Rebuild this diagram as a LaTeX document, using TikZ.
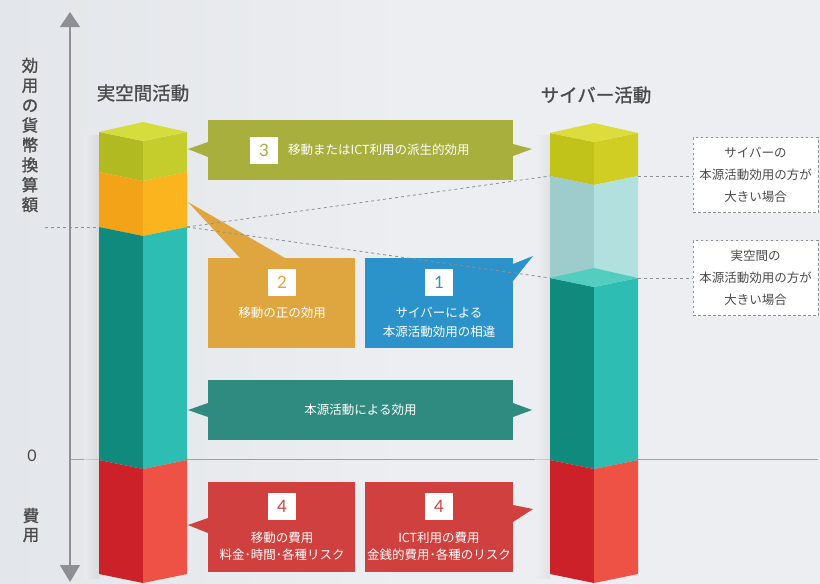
\documentclass[tikz,border=0pt]{standalone}
\usepackage{fontspec}
\setmainfont{Noto Sans CJK JP}
\newfontfamily\jpb[FakeBold=1.2]{Noto Sans CJK JP}
\newfontfamily\numf{Lato}
\usetikzlibrary{arrows.meta}
\definecolor{bg}{HTML}{ECEEF1}
\definecolor{bgdark}{HTML}{E3E6EA}
\definecolor{axisc}{HTML}{8C9096}
\definecolor{zeroc}{HTML}{9EA2A8}
\definecolor{dashc}{HTML}{8A8F96}
\definecolor{lab}{HTML}{4A4A4A}
\definecolor{boxOlive}{HTML}{A8AF3D}
\definecolor{boxOrange}{HTML}{DFA53E}
\definecolor{boxBlue}{HTML}{2B93C9}
\definecolor{boxTeal}{HTML}{2F8B7F}
\definecolor{boxRed}{HTML}{D0403E}
% column faces
\definecolor{ygL}{HTML}{B1BA20}\definecolor{ygR}{HTML}{C4CD2C}\definecolor{ygT}{HTML}{D4DD3C}
\definecolor{orL}{HTML}{F3A318}\definecolor{orR}{HTML}{FBB31E}
\definecolor{tlL}{HTML}{0F8A7C}\definecolor{tlR}{HTML}{2DBDB3}\definecolor{tlT}{HTML}{54CDC1}
\definecolor{rdL}{HTML}{CD2129}\definecolor{rdR}{HTML}{EE5245}
\definecolor{yeL}{HTML}{C1C31B}\definecolor{yeR}{HTML}{D0CE22}\definecolor{yeT}{HTML}{DCDC3C}
\definecolor{trL}{HTML}{9ECBCB}\definecolor{trR}{HTML}{B2E0DF}
% #1 xl, #2 xc, #3 xr, #4 ytop, #5 ybot, #6 left colour, #7 right colour
\newcommand\colseg[7]{%
  \fill[#6] (#1,#4) -- (#2,#4+9) -- (#2,#5+9) -- (#1,#5) -- cycle;
  \fill[#7] (#2,#4+9) -- (#3,#4) -- (#3,#5) -- (#2,#5+9) -- cycle;}
% #1 xl, #2 xc, #3 xr, #4 y, #5 colour
\newcommand\coltop[5]{%
  \fill[#5] (#1,#4) -- (#2,#4-10) -- (#3,#4) -- (#2,#4+9) -- cycle;}
\tikzset{
  callout/.style={minimum width=#1, inner sep=0pt, outer sep=0pt},
  numsq/.style={fill=white, minimum width=28pt, minimum height=27pt, inner sep=0pt,
     font=\numf\fontsize{17}{17}\selectfont},
  boxtext/.style={text=white, font=\fontsize{12.5}{18}\selectfont, inner sep=0pt},
  dashline/.style={draw=dashc, line width=0.8pt, dash pattern=on 3pt off 3pt},
  notebox/.style={draw=dashc, line width=0.8pt, dash pattern=on 2.5pt off 2.5pt, fill=white,
     minimum width=125pt, minimum height=75pt, align=center, text=lab,
     font=\fontsize{12.5}{22}\selectfont, inner sep=0pt},
  title/.style={text=lab, font=\jpb\fontsize{18.5}{18.5}\selectfont, inner sep=0pt},
}
\begin{document}
\begin{tikzpicture}[x=1pt,y=-1pt]
\useasboundingbox (0,0) rectangle (820,584);
\shade[left color=bgdark, right color=bg] (0,0) rectangle (410,584);
\fill[bg] (410,0) rectangle (820,584);

% axis labels
\node[text=lab, font=\jpb\fontsize{16.5}{19.9}\selectfont, align=center, inner sep=0pt] (ylab) at (30,135)
  {効\\用\\の\\貨\\幣\\換\\算\\額};
\node[text=lab, font=\jpb\fontsize{16.5}{19}\selectfont, align=center, inner sep=0pt] (clab) at (31,525) {費\\用};
\node[text=lab, font=\numf\fontsize{16}{16}\selectfont, inner sep=0pt] (zero) at (32,456) {0};

% axis and zero line
\coordinate (axtop) at (70,12);
\coordinate (axbot) at (70,582);
\coordinate (z0) at (70,459);
\coordinate (z1) at (818,459);
\draw[zeroc, line width=1pt] (z0) -- (z1);
\draw[axisc, line width=1.2pt, {Triangle[width=20pt,length=15pt]}-{Triangle[width=20pt,length=17pt]}] (axtop) -- (axbot);

% titles
\node[title] (tleft) at (143,93) {実空間活動};
\node[title] (tright) at (596,95) {サイバー活動};

% shadows of columns
\shade[left color=bg, right color=black!18, opacity=0.6] (84,135) rectangle (99,578);
\shade[left color=bg, right color=black!14, opacity=0.6] (535,135) rectangle (550,578);

% callout boxes
\node[callout=305pt, minimum height=60pt, fill=boxOlive] (b3) at (360.5,150) {};
\fill[boxOlive] (b3.west) ++(0,-8) -- ++(-20,7) -- ++(20,8) -- cycle;
\fill[boxOlive] (b3.east) ++(0,-6) -- ++(19,5) -- ++(-19,7) -- cycle;
\node[numsq, text=boxOlive] (n3) at (264,150) {3};
\node[boxtext, anchor=west] (t3) at (288,150) {移動またはICT利用の派生的効用};

\node[callout=147pt, minimum height=90pt, fill=boxOrange] (b2) at (281.5,303) {};
\fill[boxOrange] (b2.north west) ++(32,0) -- ++(-52,-56) -- ++(97,56) -- cycle;
\node[numsq, text=boxOrange] (n2) at (282,282) {2};
\node[boxtext] (t2) at (282,313) {移動の正の効用};

\node[callout=148pt, minimum height=90pt, fill=boxBlue] (b1) at (439,303) {};
\fill[boxBlue] (b1.north east) ++(0,6) -- ++(20,-8) -- ++(-20,25) -- cycle;
\node[numsq, text=boxBlue] (n1) at (439,282) {1};
\node[boxtext] (t1a) at (439,313) {サイバーによる};
\node[boxtext] (t1b) at (439,332) {本源活動効用の相違};

\node[callout=305pt, minimum height=60pt, fill=boxTeal] (bT) at (360.5,410) {};
\fill[boxTeal] (bT.west) ++(0,-7) -- ++(-20,7) -- ++(20,7) -- cycle;
\fill[boxTeal] (bT.east) ++(0,-7) -- ++(19,7) -- ++(-19,7) -- cycle;
\node[boxtext] (tT) at (360.5,410) {本源活動による効用};

\node[callout=147pt, minimum height=90pt, fill=boxRed] (b4a) at (281.5,527) {};
\fill[boxRed] (b4a.west) ++(0,-9) -- ++(-20,7) -- ++(20,8) -- cycle;
\node[numsq, text=boxRed] (n4a) at (282,506) {4};
\node[boxtext] (t4a) at (282,538) {移動の費用};
\node[boxtext] (t4b) at (282,555) {料金･時間･各種リスク};

\node[callout=148pt, minimum height=90pt, fill=boxRed] (b4b) at (439,527) {};
\fill[boxRed] (b4b.north east) ++(0,23) -- ++(20,4) -- ++(-20,13) -- cycle;
\node[numsq, text=boxRed] (n4b) at (439,506) {4};
\node[boxtext] (t4c) at (439,538) {ICT利用の費用};
\node[boxtext] (t4d) at (439,555) {金銭的費用･各種のリスク};

% dashed guide lines
\coordinate (dl0) at (45,227);
\coordinate (dl1) at (99,227);
\coordinate (L) at (187,227);
\coordinate (RU) at (550,176);
\coordinate (RD) at (550,278);
\coordinate (RU2) at (638,176);
\coordinate (RD2) at (638,278);
\draw[dashline] (dl0) -- (dl1);
\draw[dashline] (L) -- (RU);
\draw[dashline] (L) -- (RD);

% left column
\colseg{99}{143}{187}{132}{172}{ygL}{ygR}
\coltop{99}{143}{187}{132}{ygT}
\colseg{99}{143}{187}{172}{227}{orL}{orR}
\colseg{99}{143}{187}{227}{460}{tlL}{tlR}
\colseg{99}{143}{187}{460}{574}{rdL}{rdR}

% right column
\colseg{550}{594}{638}{133}{176}{yeL}{yeR}
\coltop{550}{594}{638}{133}{yeT}
\colseg{550}{594}{638}{176}{278}{trL}{trR}
\colseg{550}{594}{638}{278}{460}{tlL}{tlR}
\coltop{550}{594}{638}{278}{tlT}
\colseg{550}{594}{638}{460}{574}{rdL}{rdR}

% note boxes
\node[notebox] (d1) at (755.5,175) {サイバーの\\本源活動効用の方が\\大きい場合};
\node[notebox] (d2) at (755.5,278) {実空間の\\本源活動効用の方が\\大きい場合};
\draw[dashline] (RU2) -- (d1.west |- RU2);
\draw[dashline] (RD2) -- (d2.west |- RD2);
\end{tikzpicture}
\end{document}
